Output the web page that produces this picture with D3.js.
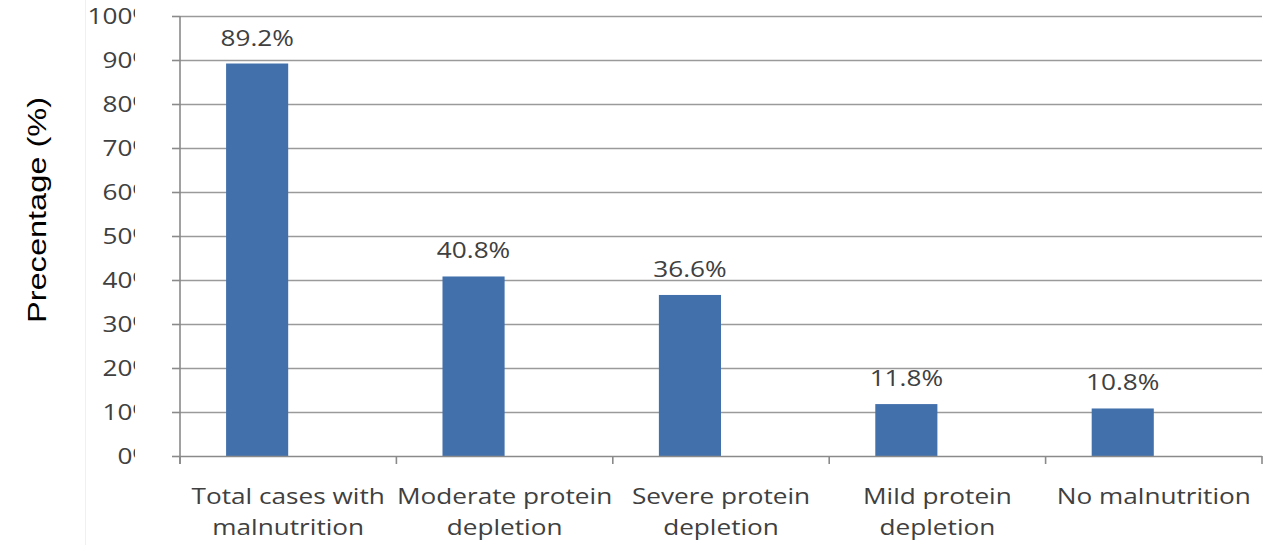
<!DOCTYPE html>
<html>
<head>
<meta charset="utf-8">
<script src="https://cdn.jsdelivr.net/npm/d3@7"></script>
<style>
  html, body { margin: 0; padding: 0; background: #fff; }
  svg { display: block; }
  text { font-family: "Open Sans", "DejaVu Sans", sans-serif; fill: #404040; }
</style>
</head>
<body>
<div id="chart"></div>
<script>
// Share of patients by nutritional status
const categories = [
  ["Total cases with", "malnutrition"],
  ["Moderate protein", "depletion"],
  ["Severe protein", "depletion"],
  ["Mild protein", "depletion"],
  ["No malnutrition"]
];
const values = [89.2, 40.8, 36.6, 11.8, 10.8];
const valueLabels = ["89.2%", "40.8%", "36.6%", "11.8%", "10.8%"];
const yTicks = [0, 10, 20, 30, 40, 50, 60, 70, 80, 90, 100];
const yTickLabels = ["0%", "10%", "20%", "30%", "40%", "50%", "60%", "70%", "80%", "90%", "100%"];
const yTitle = "Precentage (%)";

const W = 1264, H = 545;
const plot = { left: 180, right: 1262, top: 16, bottom: 456 };
const FS = 22;      // label font size
const SX = 1.19;    // horizontal widening of label text

const svg = d3.select("#chart").append("svg")
  .attr("width", W).attr("height", H);

// faint outer frame of the chart area
svg.append("line")
  .attr("x1", 85.5).attr("x2", 85.5).attr("y1", 0).attr("y2", H)
  .attr("stroke", "#f0f0f0").attr("stroke-width", 1);

const idx = d3.range(categories.length);
const x = d3.scaleBand().domain(idx).range([plot.left, plot.right]).padding(0);
// two slots per category; only the first slot carries a bar
const slot = d3.scaleBand().domain([0, 1]).range([0, x.bandwidth()])
  .paddingInner(0).paddingOuter(0.742);
const y = d3.scaleLinear().domain([0, 100]).range([plot.bottom, plot.top]);

// horizontal gridlines
svg.append("g").selectAll("line")
  .data(yTicks.filter(d => d > 0))
  .join("line")
  .attr("x1", plot.left).attr("x2", plot.right)
  .attr("y1", d => Math.round(y(d)) + 0.5).attr("y2", d => Math.round(y(d)) + 0.5)
  .attr("stroke", "#9a9a9a").attr("stroke-width", 1.6);

// y tick labels, cut at the edge of their box
svg.append("defs").append("clipPath").attr("id", "yclip")
  .append("rect").attr("x", 0).attr("y", 0).attr("width", 135).attr("height", H);

svg.append("g").attr("clip-path", "url(#yclip)")
  .selectAll("text").data(yTicks).join("text")
  .attr("transform", d => `translate(154,${y(d)}) scale(${SX},1)`)
  .attr("dy", "0.36em")
  .attr("text-anchor", "end")
  .style("font-size", FS + "px")
  .text((d, i) => yTickLabels[i]);

// bars
svg.append("g").selectAll("rect")
  .data(values).join("rect")
  .attr("x", (d, i) => x(i) + slot(0))
  .attr("width", slot.bandwidth())
  .attr("y", d => y(d))
  .attr("height", d => y(0) - y(d))
  .attr("fill", "#4270ab");

// value labels
svg.append("g").selectAll("text")
  .data(values).join("text")
  .attr("transform", (d, i) =>
    `translate(${x(i) + slot(0) + slot.bandwidth() / 2},${y(d) - 18}) scale(${SX},1)`)
  .attr("text-anchor", "middle")
  .style("font-size", FS + "px")
  .text((d, i) => valueLabels[i]);

// y axis line and ticks
const axisG = svg.append("g").attr("stroke", "#8a8a8a").attr("stroke-width", 1.6);
axisG.append("line")
  .attr("x1", plot.left).attr("x2", plot.left)
  .attr("y1", plot.top).attr("y2", plot.bottom + 8);
axisG.selectAll(".yt").data(yTicks).join("line").attr("class", "yt")
  .attr("x1", plot.left - 8).attr("x2", plot.left)
  .attr("y1", d => Math.round(y(d)) + 0.5).attr("y2", d => Math.round(y(d)) + 0.5);

// x axis line and ticks at band edges
axisG.append("line")
  .attr("x1", plot.left).attr("x2", plot.right)
  .attr("y1", plot.bottom + 0.5).attr("y2", plot.bottom + 0.5);
axisG.selectAll(".xt").data(idx.concat([categories.length])).join("line").attr("class", "xt")
  .attr("x1", i => i < categories.length ? x(i) : plot.right)
  .attr("x2", i => i < categories.length ? x(i) : plot.right)
  .attr("y1", plot.bottom).attr("y2", plot.bottom + 8);

// category labels
const catG = svg.append("g").selectAll("text")
  .data(categories).join("text")
  .attr("text-anchor", "middle")
  .attr("transform", (d, i) => `translate(${x(i) + x.bandwidth() / 2},0) scale(${SX},1)`)
  .style("font-size", FS + "px");
catG.selectAll("tspan").data(d => d).join("tspan")
  .attr("x", 0)
  .attr("y", (d, j) => 504 + j * 31)
  .text(d => d);

// y axis title
svg.append("text")
  .attr("transform", "translate(46,210) rotate(-90)")
  .attr("text-anchor", "middle")
  .style("font-family", "'Liberation Sans', Arial, sans-serif")
  .style("font-size", "26px")
  .style("fill", "#000")
  .attr("textLength", 226)
  .attr("lengthAdjust", "spacingAndGlyphs")
  .text(yTitle);
</script>
</body>
</html>
